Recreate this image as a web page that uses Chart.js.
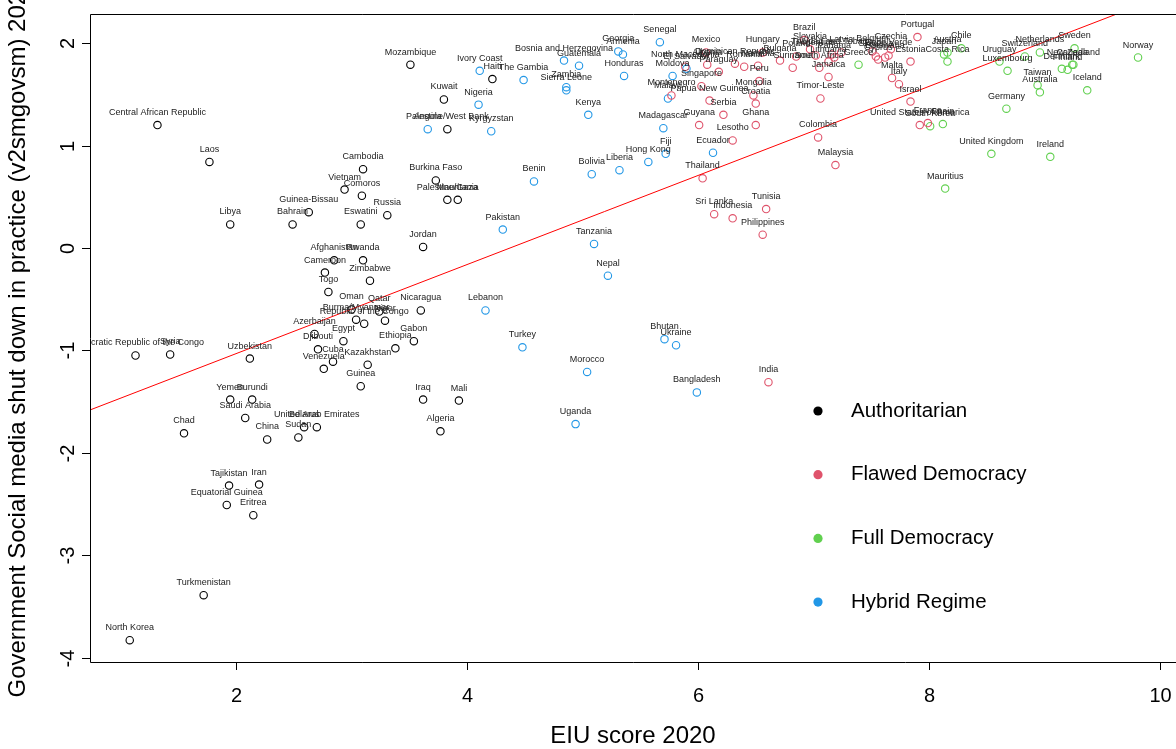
<!DOCTYPE html>
<html>
<head>
<meta charset="utf-8">
<script src="https://cdn.jsdelivr.net/npm/chart.js@4.4.0/dist/chart.umd.min.js"></script>
<style>
html,body{margin:0;padding:0;background:#ffffff;}
#wrap{width:1176px;height:749px;position:relative;}
</style>
</head>
<body>
<div id="wrap"><canvas id="c" width="1176" height="749"></canvas></div>
<script>
// ---- Authoritarian regimes ----
const authNames = ["North Korea","Democratic Republic of the Congo","Central African Republic","Syria","Chad","Turkmenistan","Laos","Equatorial Guinea","Tajikistan","Yemen","Libya","Saudi Arabia","Uzbekistan","Burundi","Eritrea","Iran","China","Bahrain","Sudan","Belarus","Guinea-Bissau","Azerbaijan","United Arab Emirates","Djibouti","Venezuela","Cameroon","Togo","Cuba","Afghanistan","Egypt","Vietnam","Oman","Burma/Myanmar","Guinea","Eswatini","Comoros","Rwanda","Cambodia","Republic of the Congo","Kazakhstan","Zimbabwe","Qatar","Niger","Russia","Ethiopia","Mozambique","Gabon","Nicaragua","Iraq","Jordan","Burkina Faso","Algeria","Kuwait","Palestine/West Bank","Palestine/Gaza","Mauritania","Mali","Haiti"];
const authEIU = [1.08,1.13,1.32,1.43,1.55,1.72,1.77,1.92,1.94,1.95,1.95,2.08,2.12,2.14,2.15,2.20,2.27,2.49,2.54,2.59,2.63,2.68,2.70,2.71,2.76,2.77,2.80,2.84,2.85,2.93,2.94,3.00,3.04,3.08,3.08,3.09,3.10,3.10,3.11,3.14,3.16,3.24,3.29,3.31,3.38,3.51,3.54,3.60,3.62,3.62,3.73,3.77,3.80,3.83,3.83,3.92,3.93,4.22];
const authShut = [-3.83,-1.05,1.20,-1.04,-1.81,-3.39,0.84,-2.51,-2.32,-1.48,0.23,-1.66,-1.08,-1.48,-2.61,-2.31,-1.87,0.23,-1.85,-1.75,0.35,-0.84,-1.75,-0.99,-1.18,-0.24,-0.43,-1.11,-0.12,-0.91,0.57,-0.60,-0.70,-1.35,0.23,0.51,-0.12,0.77,-0.74,-1.14,-0.32,-0.62,-0.71,0.32,-0.98,1.79,-0.91,-0.61,-1.48,0.01,0.66,-1.79,1.45,1.16,0.47,0.47,-1.49,1.65];

// ---- Flawed democracies ----
const flawNames = ["Montenegro","North Macedonia","Guyana","Singapore","Thailand","Mexico","Albania","Papua New Guinea","Sri Lanka","Paraguay","Serbia","Indonesia","Lesotho","Dominican Republic","Romania","Mongolia","Croatia","Ghana","Namibia","Peru","Hungary","Philippines","Tunisia","India","Bulgaria","Suriname","Poland","Brazil","Slovakia","Argentina","Colombia","South Africa","Timor-Leste","Jamaica","Lithuania","Trinidad and Tobago","Panama","Malaysia","Latvia","Belgium","Slovenia","Cyprus","Botswana","Cape Verde","Czechia","Malta","Italy","Estonia","Israel","Portugal","United States of America","France"];
const flawEIU = [5.77,5.89,6.01,6.03,6.04,6.07,6.08,6.10,6.14,6.18,6.22,6.30,6.30,6.32,6.40,6.48,6.50,6.50,6.52,6.53,6.56,6.56,6.59,6.61,6.71,6.82,6.85,6.92,6.97,7.02,7.04,7.05,7.06,7.13,7.13,7.16,7.18,7.19,7.24,7.51,7.54,7.56,7.62,7.65,7.67,7.68,7.74,7.84,7.84,7.90,7.92,7.99];
const flawShut = [1.49,1.77,1.20,1.58,0.68,1.91,1.79,1.44,0.33,1.72,1.30,0.29,1.05,1.80,1.77,1.49,1.41,1.20,1.78,1.63,1.91,0.13,0.38,-1.31,1.83,1.76,1.87,2.03,1.94,1.88,1.08,1.76,1.46,1.67,1.82,1.89,1.86,0.81,1.91,1.92,1.87,1.84,1.86,1.88,1.94,1.66,1.60,1.82,1.43,2.06,1.20,1.22];

// ---- Full democracies ----
const fullNames = ["Greece","South Korea","Spain","Japan","Mauritius","Costa Rica","Austria","Chile","United Kingdom","Uruguay","Germany","Luxembourg","Switzerland","Taiwan","Australia","Netherlands","Ireland","Denmark","Finland","Canada","New Zealand","Sweden","Iceland","Norway"];
const fullEIU = [7.39,8.01,8.12,8.13,8.14,8.16,8.16,8.28,8.54,8.61,8.67,8.68,8.83,8.94,8.96,8.96,9.05,9.15,9.20,9.24,9.25,9.26,9.37,9.81];
const fullShut = [1.79,1.19,1.21,1.89,0.58,1.82,1.91,1.95,0.92,1.82,1.36,1.73,1.87,1.59,1.52,1.91,0.89,1.75,1.74,1.79,1.79,1.95,1.54,1.86];

// ---- Hybrid regimes ----
const hybNames = ["Angola","Nigeria","Ivory Coast","Lebanon","Kyrgyzstan","Pakistan","Turkey","The Gambia","Benin","Bosnia and Herzegovina","Zambia","Sierra Leone","Uganda","Guatemala","Morocco","Kenya","Bolivia","Tanzania","Nepal","Georgia","Liberia","Armenia","Honduras","Hong Kong","Senegal","Madagascar","Bhutan","Fiji","Malawi","Moldova","Ukraine","El Salvador","Bangladesh","Ecuador"];
const hybEIU = [3.66,4.10,4.11,4.16,4.21,4.31,4.48,4.49,4.58,4.84,4.86,4.86,4.94,4.97,5.04,5.05,5.08,5.10,5.22,5.31,5.32,5.35,5.36,5.57,5.67,5.70,5.71,5.72,5.74,5.78,5.81,5.90,5.99,6.13];
const hybShut = [1.16,1.40,1.73,-0.61,1.14,0.18,-0.97,1.64,0.65,1.83,1.57,1.54,-1.72,1.78,-1.21,1.30,0.72,0.04,-0.27,1.92,0.76,1.89,1.68,0.84,2.01,1.17,-0.89,0.92,1.46,1.68,-0.95,1.75,-1.41,0.93];

const regimeLabels = ["Authoritarian","Flawed Democracy","Full Democracy","Hybrid Regime"];
const regimeColors = ["#000000","#DF536B","#61D04F","#2297E6"];

const xTicks = [2,4,6,8,10];
const yTicks = [-4,-3,-2,-1,0,1,2];
const xTitle = "EIU score 2020";
const yTitle = "Government Social media shut down in practice (v2smgovsm) 2020";

// fitted trend line: shutdown = fitIntercept + fitSlope * EIU
const fitIntercept = -1.902;
const fitSlope = 0.435;

// axis limits
const xMin = 0.736, xMax = 10.1385;
const yMin = -4.043, yMax = 2.285;

const FONT = "'Liberation Sans', Arial, Helvetica, sans-serif";

function toPoints(names, xs, ys){
  return names.map((n,i)=>({x:xs[i], y:ys[i], name:n}));
}

const groups = [
  [authNames, authEIU, authShut],
  [flawNames, flawEIU, flawShut],
  [fullNames, fullEIU, fullShut],
  [hybNames, hybEIU, hybShut]
];

const datasets = groups.map((g,i)=>({
  type:'scatter',
  label: regimeLabels[i],
  data: toPoints(g[0], g[1], g[2]),
  pointStyle:'circle',
  pointRadius:3.7,
  pointBorderWidth:1.1,
  borderColor: regimeColors[i],
  backgroundColor:'rgba(0,0,0,0)',
  pointBackgroundColor:'rgba(0,0,0,0)',
  pointBorderColor: regimeColors[i],
  showLine:false,
  order:1
}));

datasets.push({
  type:'line',
  label:'fit',
  data:[{x:xMin, y:fitIntercept+fitSlope*xMin},{x:xMax, y:fitIntercept+fitSlope*xMax}],
  borderColor:'#FF0000',
  borderWidth:1,
  pointRadius:0,
  fill:false,
  order:0
});

const chrome = {
  id:'chrome',
  afterDatasetsDraw(chart){
    const ctx = chart.ctx, a = chart.chartArea;
    // country labels above each point
    ctx.save();
    ctx.beginPath();
    ctx.rect(a.left, a.top, a.right-a.left, a.bottom-a.top);
    ctx.clip();
    ctx.font = "9px " + FONT;
    ctx.fillStyle = "#222222";
    ctx.textAlign = "center";
    ctx.textBaseline = "middle";
    for(let d=0; d<4; d++){
      const meta = chart.getDatasetMeta(d);
      meta.data.forEach((el,i)=>{
        const p = chart.data.datasets[d].data[i];
        ctx.fillText(p.name, el.x, el.y - 12.5);
      });
    }
    ctx.restore();
  },
  afterDraw(chart){
    const ctx = chart.ctx, a = chart.chartArea;
    const xs = chart.scales.x, ys = chart.scales.y;
    ctx.save();
    // plot frame
    ctx.strokeStyle = "#000000";
    ctx.lineWidth = 1;
    ctx.beginPath();
    ctx.moveTo(chart.width+2, a.top+0.5);
    ctx.lineTo(a.left+0.5, a.top+0.5);
    ctx.lineTo(a.left+0.5, a.bottom+0.5);
    ctx.lineTo(chart.width+2, a.bottom+0.5);
    ctx.stroke();
    // x ticks
    ctx.fillStyle = "#000000";
    ctx.font = "20px " + FONT;
    ctx.textAlign = "center";
    ctx.textBaseline = "middle";
    xTicks.forEach(v=>{
      const px = Math.round(xs.getPixelForValue(v))+0.5;
      ctx.beginPath(); ctx.moveTo(px, a.bottom); ctx.lineTo(px, a.bottom+8); ctx.stroke();
      ctx.fillText(String(v), px, a.bottom+34);
    });
    // y ticks (labels parallel to axis)
    yTicks.forEach(v=>{
      const py = Math.round(ys.getPixelForValue(v))+0.5;
      ctx.beginPath(); ctx.moveTo(a.left, py); ctx.lineTo(a.left-8, py); ctx.stroke();
      ctx.save();
      ctx.translate(a.left-22, py);
      ctx.rotate(-Math.PI/2);
      ctx.fillText(String(v), 0, 0);
      ctx.restore();
    });
    // axis titles
    ctx.font = "24px " + FONT;
    ctx.fillText(xTitle, (a.left+a.right)/2, 736);
    ctx.save();
    ctx.translate(18, (a.top+a.bottom)/2);
    ctx.rotate(-Math.PI/2);
    ctx.fillText(yTitle, 0, 0);
    ctx.restore();
    // legend
    ctx.font = "20.5px " + FONT;
    ctx.textAlign = "left";
    regimeLabels.forEach((lab,i)=>{
      const cy = 411 + i*63.7;
      ctx.fillStyle = regimeColors[i];
      ctx.beginPath(); ctx.arc(818, cy, 4.6, 0, Math.PI*2); ctx.fill();
      ctx.fillStyle = "#000000";
      ctx.fillText(lab, 851, cy);
    });
    ctx.restore();
  }
};

new Chart(document.getElementById('c'), {
  data:{datasets},
  options:{
    responsive:false,
    animation:false,
    layout:{autoPadding:false, padding:{left:90, top:14, right:0, bottom:87}},
    scales:{
      x:{type:'linear', display:false, min:xMin, max:xMax},
      y:{type:'linear', display:false, min:yMin, max:yMax}
    },
    plugins:{legend:{display:false}, tooltip:{enabled:false}}
  },
  plugins:[chrome]
});
</script>
</body>
</html>
